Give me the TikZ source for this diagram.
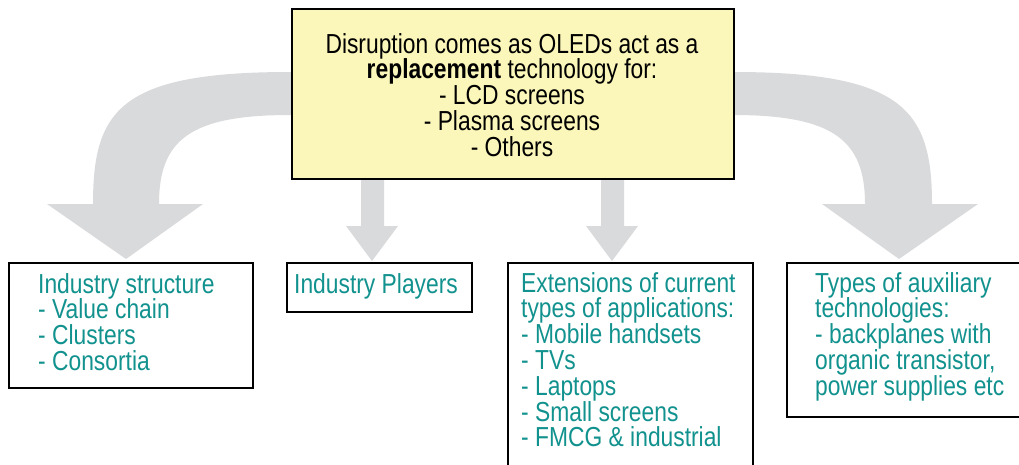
\documentclass[tikz,border=0pt]{standalone}
\usepackage{fontspec}
\setmainfont{Liberation Sans}[FakeStretch=0.83]
\definecolor{txtteal}{RGB}{18,146,142}
\definecolor{arrowgray}{RGB}{217,218,220}
\definecolor{paleyellow}{RGB}{251,246,185}
\begin{document}
\begin{tikzpicture}[x=1pt,y=-1pt,
  box/.style={draw=black, line width=1.5pt, fill=white, inner sep=0pt, anchor=north west},
  mainbox/.style={box, fill=paleyellow},
  txt/.style={inner sep=0pt, font=\fontsize{27.5}{25.8}\selectfont},
  blockarrow/.style={fill=arrowgray, draw=none}]
\useasboundingbox (0,0) rectangle (1019,464);
\clip (0,0) rectangle (1019,464);

% curved block arrow to the left
\fill[blockarrow] (420,72) -- (290,72)
  .. controls (120,72) and (93,110) .. (93,204)
  -- (47,204) -- (126,259) -- (203,204) -- (159,204)
  .. controls (159,140) and (190,115) .. (290,115)
  -- (420,115) -- cycle;
% curved block arrow to the right
\fill[blockarrow] (600,72) -- (733,72)
  .. controls (903,72) and (932,110) .. (932,204)
  -- (978,204) -- (899,259) -- (822,204) -- (865,204)
  .. controls (865,140) and (833,115) .. (733,115)
  -- (600,115) -- cycle;
% straight block arrows
\fill[blockarrow] (361,150) -- (384,150) -- (384,226) -- (398,226)
  -- (372,261) -- (346,226) -- (361,226) -- cycle;
\fill[blockarrow] (601,150) -- (624,150) -- (624,226) -- (638,226)
  -- (612,261) -- (586,226) -- (601,226) -- cycle;

% central statement
\node[mainbox, minimum width=442pt, minimum height=170pt] (disrupt) at (291,8) {};
\node[txt, anchor=base, text=black] (disrupttxt) at (512,53)
  {\parbox[t]{440pt}{\centering Disruption comes as OLEDs act as a\\
   \textbf{replacement} technology for:\\
   - LCD screens\\
   - Plasma screens\\
   - Others}};

% outcome boxes
\node[box, minimum width=244pt, minimum height=125pt] (structure) at (8,262) {};
\node[txt, anchor=base west, text=txtteal] (structuretxt) at (38,293)
  {\parbox[t]{210pt}{\raggedright Industry structure\\
   - Value chain\\
   - Clusters\\
   - Consortia}};

\node[box, minimum width=185pt, minimum height=49pt] (players) at (286,262) {};
\node[txt, anchor=base west, text=txtteal] (playerstxt) at (294,293) {Industry Players};

\node[box, minimum width=245pt, minimum height=230pt] (applications) at (507,262) {};
\node[txt, anchor=base west, text=txtteal] (applicationstxt) at (521,292)
  {\parbox[t]{230pt}{\raggedright Extensions of current\\
   types of applications:\\
   - Mobile handsets\\
   - TVs\\
   - Laptops\\
   - Small screens\\
   - FMCG \& industrial}};

\node[box, minimum width=260pt, minimum height=154pt] (auxiliary) at (786,262) {};
\node[txt, anchor=base west, text=txtteal] (auxiliarytxt) at (815,292)
  {\parbox[t]{200pt}{\raggedright Types of auxiliary\\
   technologies:\\
   - backplanes with\\
   organic transistor,\\
   power supplies etc}};
\end{tikzpicture}
\end{document}
